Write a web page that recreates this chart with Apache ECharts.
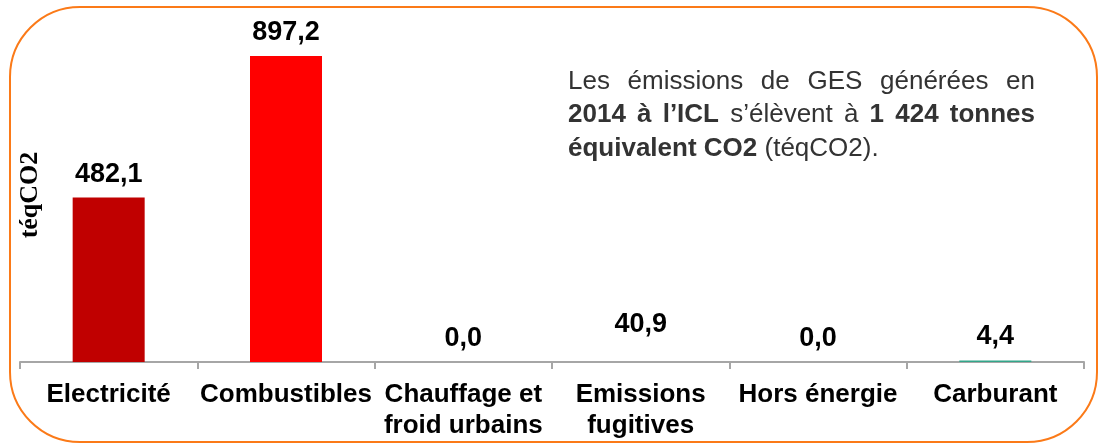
<!DOCTYPE html>
<html lang="fr">

<head>
  <meta charset="UTF-8">
  <title>GES ICL 2014</title>
  <style>
  html, body {
    margin: 0;
    padding: 0;
    background: #fff;
  }
  #main {
    width: 1104px;
    height: 444px;
  }
  </style>
  <script src="https://cdn.jsdelivr.net/npm/echarts@6/dist/echarts.min.js"></script>
</head>

<body>
  <div id="main"></div>
  <script>
  // données
  var categories = ['Electricité', 'Combustibles', 'Chauffage et\nfroid urbains', 'Emissions\nfugitives', 'Hors énergie', 'Carburant'];
  var values = [482.1, 897.2, 0.0, 40.9, 0.0, 4.4];
  var barColors = ['#c00000', '#ff0000', '#4f81bd', 'rgba(255,255,255,0)', '#8064a2', '#33a68a'];
  var yMax = 1000;
  var yName = 'téqCO2';
  // texte encadré : segments [texte, gras]
  var noteLines = [
    [['Les émissions de GES générées en', false]],
    [['2014 à l’ICL', true], ['s’élèvent à', false], ['1 424 tonnes', true]],
    [['équivalent CO2', true], ['(téqCO2).', false]]
  ];

  var sans = 'Arial, "Liberation Sans", sans-serif';
  var serif = '"Times New Roman", "Liberation Serif", serif';

  var noteLeft = 568, noteRight = 1035, noteTop = 81.5, noteStep = 33.5, noteSize = 26;

  var ctx = document.createElement('canvas').getContext('2d');
  function fontOf(bold) {
    return (bold ? 'bold ' : '') + noteSize + 'px ' + sans;
  }

  // mise en page justifiée du texte (comme dans la diapo)
  var noteGraphics = [];
  noteLines.forEach(function(line, li) {
    var words = [];
    line.forEach(function(seg) {
      seg[0].split(' ').forEach(function(w) {
        ctx.font = fontOf(seg[1]);
        words.push({ t: w, b: seg[1], w: ctx.measureText(w).width });
      });
    });
    var total = words.reduce(function(s, w) { return s + w.w; }, 0);
    ctx.font = fontOf(false);
    var gap = ctx.measureText(' ').width;
    if (li < noteLines.length - 1 && words.length > 1) {
      gap = (noteRight - noteLeft - total) / (words.length - 1);
    }
    var x = noteLeft;
    words.forEach(function(w) {
      noteGraphics.push({
        type: 'text',
        x: x,
        y: noteTop + li * noteStep,
        style: {
          text: w.t,
          font: fontOf(w.b),
          fill: '#333',
          textAlign: 'left',
          textVerticalAlign: 'middle'
        }
      });
      x += w.w + gap;
    });
  });

  var chart = echarts.init(document.getElementById('main'));
  chart.setOption({
    animation: false,
    grid: {
      left: 20,
      right: 20,
      top: 21,
      bottom: 82
    },
    xAxis: {
      type: 'category',
      data: categories,
      axisLine: {
        lineStyle: { color: '#a6a6a6', width: 2 }
      },
      axisTick: {
        show: true,
        interval: 0,
        length: 7,
        lineStyle: { color: '#a6a6a6', width: 2 }
      },
      axisLabel: {
        interval: 0,
        margin: 17,
        color: '#000',
        fontFamily: sans,
        fontWeight: 'bold',
        fontSize: 26,
        lineHeight: 31
      }
    },
    yAxis: {
      type: 'value',
      min: 0,
      max: yMax,
      show: false
    },
    series: [{
      type: 'bar',
      barWidth: 72,
      data: values.map(function(v, i) {
        return { value: v, itemStyle: { color: barColors[i] } };
      }),
      label: {
        show: true,
        position: 'top',
        distance: 10,
        color: '#000',
        fontFamily: sans,
        fontWeight: 'bold',
        fontSize: 27,
        formatter: function(p) {
          return p.value.toFixed(1).replace('.', ',');
        }
      }
    }],
    graphic: [{
      type: 'rect',
      shape: { x: 10, y: 7, width: 1087, height: 435, r: 70 },
      style: { fill: 'none', stroke: '#fb7a18', lineWidth: 2 },
      silent: true
    }, {
      type: 'text',
      x: 30,
      y: 195,
      rotation: Math.PI / 2,
      style: {
        text: yName,
        font: 'bold 26px ' + serif,
        fill: '#000',
        textAlign: 'center',
        textVerticalAlign: 'middle'
      }
    }].concat(noteGraphics)
  });
  </script>
</body>

</html>
